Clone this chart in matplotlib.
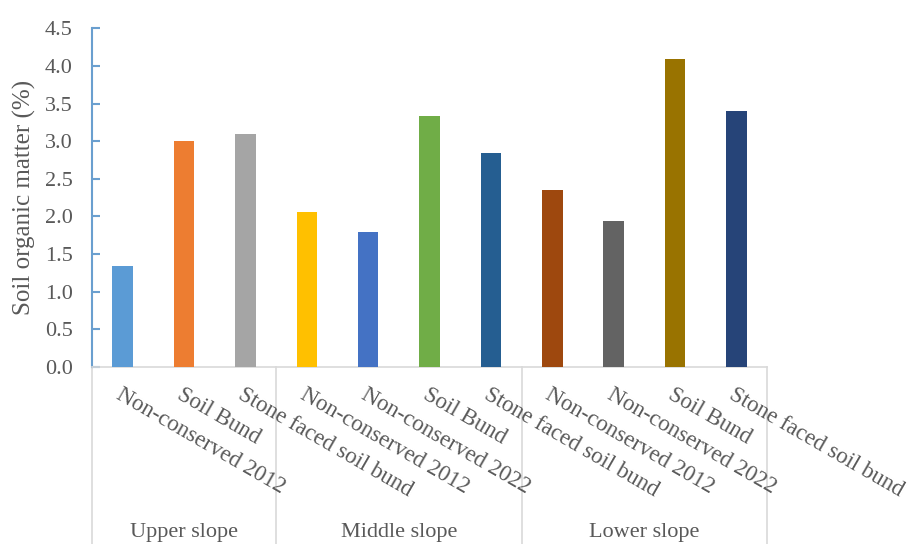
import matplotlib
matplotlib.use("Agg")
import matplotlib.pyplot as plt
import numpy as np

# Soil organic matter by slope position and conservation practice
treatments = [
    "Non-conserved 2012", "Soil Bund", "Stone faced soil bund",
    "Non-conserved 2012", "Non-conserved 2022", "Soil Bund", "Stone faced soil bund",
    "Non-conserved 2012", "Non-conserved 2022", "Soil Bund", "Stone faced soil bund",
]
som_values = [1.34, 3.00, 3.10, 2.06, 1.79, 3.33, 2.84, 2.35, 1.94, 4.09, 3.40]
slope_groups = ["Upper slope", "Middle slope", "Lower slope"]
group_sizes = [3, 4, 4]
y_ticks = [0.0, 0.5, 1.0, 1.5, 2.0, 2.5, 3.0, 3.5, 4.0, 4.5]

bar_colors = ["#5B9BD5", "#ED7D31", "#A5A5A5", "#FFC000", "#4472C4", "#70AD47",
              "#255E91", "#9E480E", "#636363", "#997300", "#264478"]

plt.rcParams["font.family"] = ["Liberation Serif", "DejaVu Serif"]
text_color = "#595959"
grid_gray = "#D9D9D9"
axis_blue = "#6A9FCF"

fig = plt.figure(figsize=(9.10, 5.44), dpi=100)
ax = fig.add_axes([0.1011, 0.3254, 0.7418, 0.6226])

x = np.arange(len(som_values))
ax.bar(x, som_values, width=0.335, color=bar_colors, zorder=3)

ax.set_xlim(-0.5, len(som_values) - 0.5)
ax.set_ylim(0, 4.5)
ax.set_yticks(y_ticks)
ax.set_yticklabels([f"{v:.1f}" for v in y_ticks], fontsize=16, color=text_color)
ax.tick_params(axis="y", direction="in", length=6, width=1.5, color=axis_blue, pad=14)
ax.set_xticks([])

for side in ["top", "right"]:
    ax.spines[side].set_visible(False)
ax.spines["left"].set_color(axis_blue)
ax.spines["left"].set_linewidth(1.5)
ax.spines["bottom"].set_color(grid_gray)
ax.spines["bottom"].set_linewidth(1.2)

ax.set_ylabel("Soil organic matter (%)", fontsize=18, color=text_color)
ax.yaxis.set_label_coords(-0.083, 0.5)

xt = ax.get_xaxis_transform()

# Rotated treatment labels under each bar
for xi, name in zip(x, treatments):
    ax.text(xi, -0.05, name, transform=xt, rotation=-30,
            rotation_mode="anchor", ha="left", va="top",
            fontsize=16.5, color=text_color, clip_on=False)

# Group separators and slope labels
bounds = np.concatenate([[0], np.cumsum(group_sizes)]) - 0.5
for b in bounds:
    ax.plot([b, b], [0, -0.7], transform=xt, color=grid_gray, lw=1.2,
            clip_on=False, zorder=1)
for i, g in enumerate(slope_groups):
    center = (bounds[i] + bounds[i + 1]) / 2
    ax.text(center, -0.49, g, transform=xt, ha="center", va="center",
            fontsize=16, color=text_color, clip_on=False)

fig.savefig("out.png", dpi=100)
